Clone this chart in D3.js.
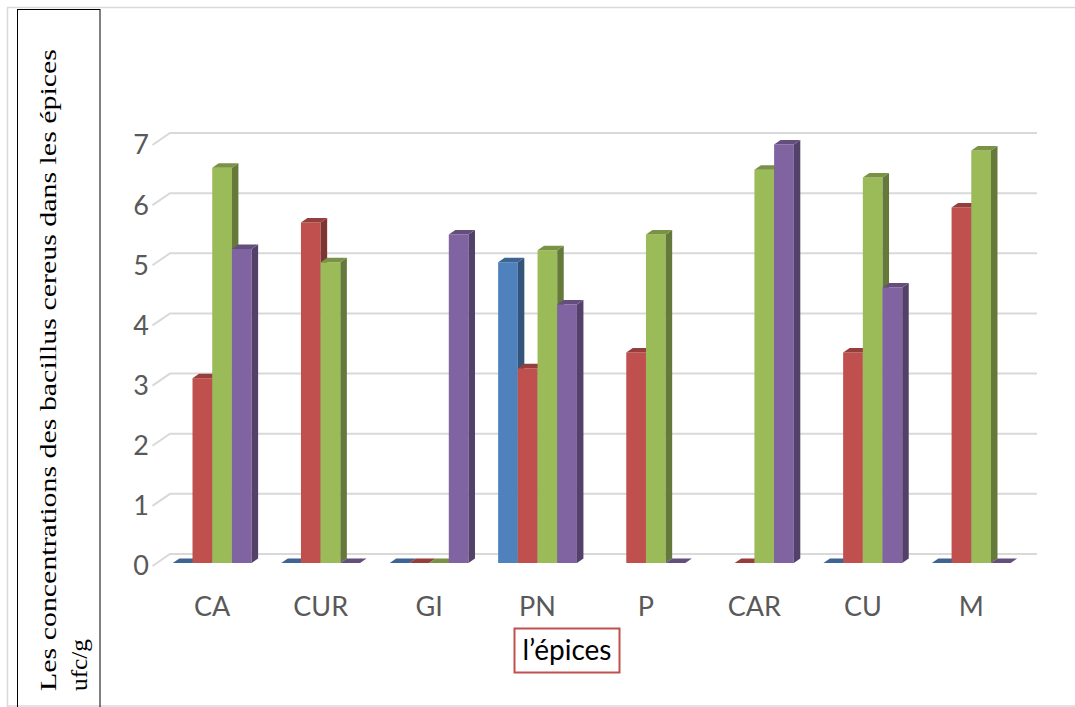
<!DOCTYPE html>
<html>
<head>
<meta charset="utf-8">
<script src="https://cdn.jsdelivr.net/npm/d3@7"></script>
<style>
  html, body { margin: 0; padding: 0; background: #fff; }
  svg { display: block; }
</style>
</head>
<body>
<svg id="chart" width="1075" height="707"></svg>
<script>
// Spice samples and B. cereus counts (log ufc/g) for four series; null = no bar
const categories = ["CA", "CUR", "GI", "PN", "P", "CAR", "CU", "M"];
const seriesNames = ["S1", "S2", "S3", "S4"];
const seriesColors = ["#4F81BD", "#C0504D", "#9BBB59", "#8064A2"];
const s1Values = [0, 0, 0, 5.0, null, null, 0, 0];
const s2Values = [3.07, 5.66, 0, 3.24, 3.5, 0, 3.5, 5.91];
const s3Values = [6.57, 5.0, 0, 5.2, 5.46, 6.54, 6.41, 6.86];
const s4Values = [5.22, 0, 5.46, 4.3, 0, 6.96, 4.58, 0];
const yTicks = [0, 1, 2, 3, 4, 5, 6, 7];
const yTitleLines = ["Les concentrations  des bacillus cereus dans les épices", "ufc/g"];
const xTitle = "l\u2019épices";

const allSeries = [s1Values, s2Values, s3Values, s4Values];

const svg = d3.select("#chart");

// outer frame
svg.append("path")
  .attr("d", "M7.5,1100 V7.5 H1080 M7.5,706 H1080")
  .attr("fill", "none").attr("stroke", "#D9D9D9").attr("stroke-width", 1.5);

// box around the value-axis title
svg.append("rect")
  .attr("x", 17.5).attr("y", 9.5).attr("width", 82.5).attr("height", 720)
  .attr("fill", "none").attr("stroke", "#000").attr("stroke-width", 1);

// scales: bar front plane, back wall, floor front edge
const yFront = d3.scaleLinear().domain([0, 7]).range([563, 142]);
const yBack = d3.scaleLinear().domain([0, 7]).range([554, 133]);
const yEdge = d3.scaleLinear().domain([0, 7]).range([566, 145]);

const x0 = d3.scaleBand().domain(categories).range([158, 1025.5]).paddingInner(0).paddingOuter(0);
const groupW = 78.8;
const x1 = d3.scaleBand().domain(seriesNames).range([0, groupW]);
const groupOff = (x0.bandwidth() - groupW) / 2;

// depth of a bar (oblique projection)
const bdx = 6.5, bdy = -4.5;

// gridlines on back wall with a short floor-side diagonal
const grid = svg.append("g").attr("stroke", "#D9D9D9").attr("stroke-width", 2).attr("fill", "none");
yTicks.forEach(v => {
  grid.append("path")
    .attr("d", `M152.5,${yEdge(v)} L170,${yBack(v)} H1037`);
});

// value-axis tick labels
svg.append("g")
  .selectAll("text").data(yTicks).join("text")
  .attr("x", 149).attr("y", d => yEdge(d))
  .attr("dy", "0.35em")
  .attr("text-anchor", "end")
  .attr("font-family", "Lato, 'Open Sans', sans-serif")
  .attr("font-size", 27)
  .attr("fill", "#595959")
  .text(d => d);

// bars
const barsG = svg.append("g");
categories.forEach((cat, ci) => {
  allSeries.forEach((vals, si) => {
    const v = vals[ci];
    if (v === null || v === undefined) return;
    const base = seriesColors[si];
    const xl = x0(cat) + groupOff + x1(seriesNames[si]);
    const xr = xl + x1.bandwidth();
    const yb = yFront(0);
    const yt = yFront(v);
    const g = barsG.append("g");
    // front face
    if (v > 0) {
      g.append("path")
        .attr("d", `M${xl},${yb} L${xr},${yb} L${xr},${yt} L${xl},${yt} Z`)
        .attr("fill", base);
      // right side face
      g.append("path")
        .attr("d", `M${xr},${yb} L${xr + bdx},${yb + bdy} L${xr + bdx},${yt + bdy} L${xr},${yt} Z`)
        .attr("fill", d3.color(base).darker(1.2));
    }
    // top face
    g.append("path")
      .attr("d", `M${xl},${yt} L${xr},${yt} L${xr + bdx},${yt + bdy} L${xl + bdx},${yt + bdy} Z`)
      .attr("fill", d3.color(base).darker(0.7));
  });
});

// category labels
svg.append("g")
  .selectAll("text").data(categories).join("text")
  .attr("x", d => x0(d) + x0.bandwidth() / 2)
  .attr("y", 616)
  .attr("text-anchor", "middle")
  .attr("font-family", "Lato, 'Open Sans', sans-serif")
  .attr("font-size", 27)
  .attr("fill", "#595959")
  .text(d => d);

// category-axis title in a framed box
svg.append("rect")
  .attr("x", 514.5).attr("y", 628.5).attr("width", 105).attr("height", 44)
  .attr("fill", "#fff").attr("stroke", "#C0504D").attr("stroke-width", 2);
svg.append("text")
  .attr("x", 567).attr("y", 660)
  .attr("text-anchor", "middle")
  .attr("font-family", "Lato, 'Open Sans', sans-serif")
  .attr("font-size", 28)
  .attr("fill", "#000")
  .text(xTitle);

// value-axis title, two rotated lines
const titleLens = [642, 52];
const titleX = [56, 87];
yTitleLines.forEach((line, i) => {
  svg.append("text")
    .attr("transform", `translate(${titleX[i]},691) rotate(-90)`)
    .attr("text-anchor", "start")
    .attr("font-family", "'Liberation Serif', 'Times New Roman', serif")
    .attr("font-size", 23)
    .attr("textLength", titleLens[i])
    .attr("lengthAdjust", "spacingAndGlyphs")
    .attr("fill", "#000")
    .text(line);
});
</script>
</body>
</html>
